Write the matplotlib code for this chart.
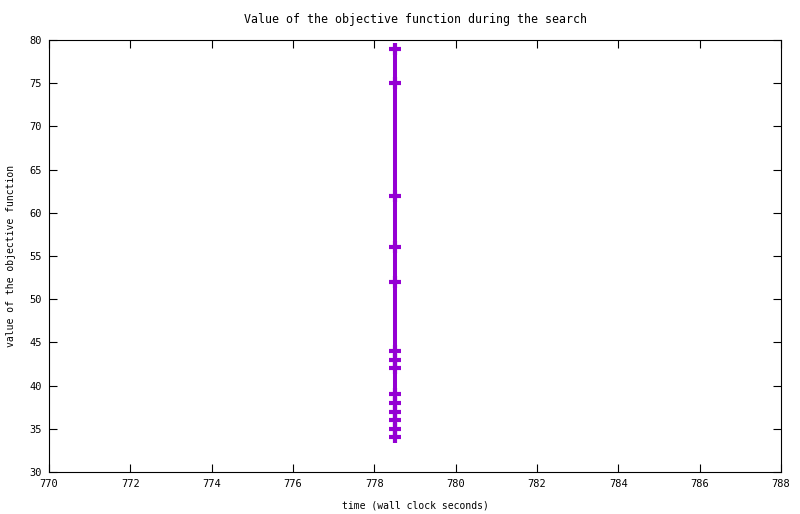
import matplotlib
matplotlib.use('Agg')
import matplotlib.pyplot as plt

# search progress: all evaluations logged at the same wall clock second
times = [778.5] * 14
values = [79, 75, 62, 56, 52, 44, 43, 42, 39, 38, 37, 36, 35, 34]

plt.rcParams['font.family'] = 'DejaVu Sans Mono'
plt.rcParams['font.size'] = 7

fig = plt.figure(figsize=(8, 5.14), dpi=100)
ax = fig.add_axes([49/800, 1 - 472/514, (781-49)/800, (472-40)/514])

ax.plot(times, values, color='#9400d3', linewidth=2.9,
        marker='+', markersize=8.5, markeredgewidth=3)

ax.set_xlim(770, 788)
ax.set_ylim(30, 80)
ax.set_xticks(range(770, 789, 2))
ax.set_yticks(range(30, 81, 5))
ax.tick_params(direction='in', length=6, width=0.8, top=True, right=True, pad=5,
               labelsize=7.5)
for s in ax.spines.values():
    s.set_linewidth(0.8)

ax.set_title('Value of the objective function during the search', pad=12)
ax.set_xlabel('time (wall clock seconds)', labelpad=8)
ax.set_ylabel('value of the objective function', labelpad=10)

fig.savefig('out.png', dpi=100)
